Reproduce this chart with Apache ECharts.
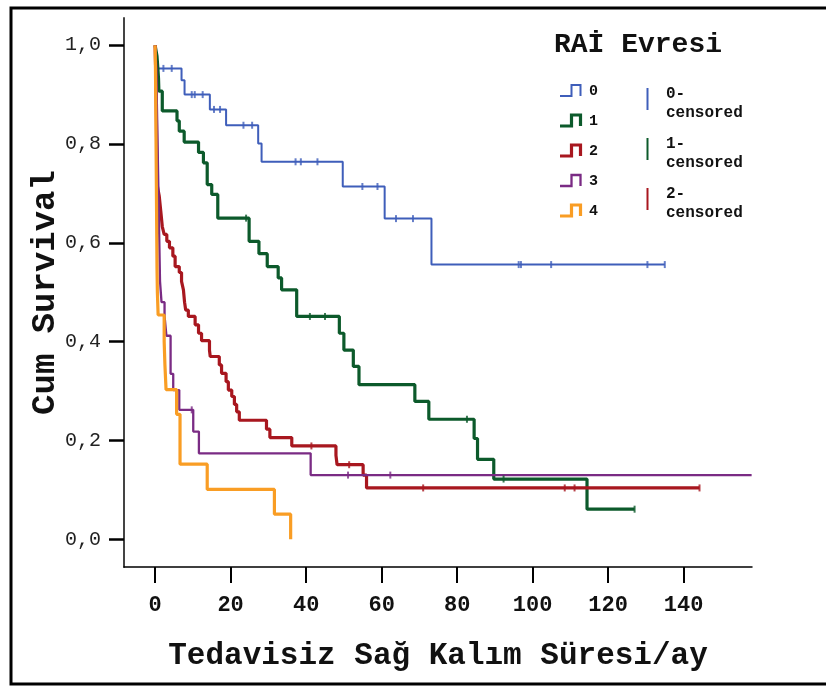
<!DOCTYPE html>
<html>
<head>
<meta charset="utf-8">
<script src="https://cdn.jsdelivr.net/npm/echarts@6/dist/echarts.min.js"></script>
<style>html,body{margin:0;padding:0;background:#fff}#chart{width:826px;height:686px}</style>
</head>
<body>
<div id="chart"></div>
<script>
// ---- data ----
const groupNames = ['0', '1', '2', '3', '4'];
const censorGroupNames = ['0-\ncensored', '1-\ncensored', '2-\ncensored'];
const legendTitle = 'RAİ Evresi';
const xTitle = 'Tedavisiz Sağ Kalım Süresi/ay';
const yTitle = 'Cum Survival';
const xTicks = [0, 20, 40, 60, 80, 100, 120, 140];
const yTicks = [0, 0.2, 0.4, 0.6, 0.8, 1.0];

const curve0 = [[0,1],[0.3,0.977],[0.6,0.953],[7.0,0.929],[7.8,0.900],[14.5,0.870],[18.8,0.838],[27.3,0.801],[28.2,0.764],[49.7,0.714],[60.8,0.649],[73.2,0.556],[135,0.556]];
const censor0 = [2.2,4.4,9.7,10.5,12.6,15.6,17.2,23.4,25.7,37.2,38.6,43.0,54.9,58.9,63.8,68.3,96.3,96.9,104.9,130.4,135];

const curve1 = [[0,1],[0.5,0.978],[0.7,0.956],[0.9,0.933],[1.0,0.907],[1.9,0.867],[5.8,0.847],[6.4,0.826],[7.7,0.804],[11.5,0.783],[12.8,0.762],[13.8,0.718],[15.0,0.698],[16.6,0.650],[24.9,0.603],[27.5,0.578],[29.7,0.552],[32.6,0.529],[33.5,0.505],[37.5,0.451],[48.8,0.417],[50.0,0.383],[52.5,0.350],[54.0,0.313],[68.8,0.279],[72.5,0.243],[84.5,0.204],[85.4,0.162],[89.7,0.122],[114.4,0.061],[127,0.061]];
const censor1 = [24.1,41.0,45.0,82.6,92.3,127];

const curve2 = [[0,1],[0.15,0.95],[0.25,0.9],[0.35,0.85],[0.4,0.8],[0.5,0.75],[0.6,0.715],[1.1,0.694],[1.5,0.664],[1.9,0.633],[2.4,0.617],[3.1,0.603],[3.8,0.590],[4.7,0.573],[5.3,0.552],[6.4,0.540],[7.0,0.522],[7.5,0.505],[7.8,0.480],[8.1,0.464],[8.8,0.451],[10.6,0.434],[11.5,0.417],[12.3,0.402],[14.4,0.383],[14.6,0.370],[17.0,0.353],[17.6,0.336],[18.8,0.319],[19.4,0.302],[20.3,0.289],[21.0,0.273],[21.6,0.258],[22.3,0.241],[29.5,0.223],[30.4,0.206],[36.2,0.189],[47.9,0.170],[48.2,0.151],[55.1,0.130],[56.0,0.104],[144.2,0.104]];
const censor2 = [41.4,51.4,71.0,108.5,111.1,144.2];

const curve3 = [[0,1],[0.3,0.957],[0.4,0.913],[0.5,0.870],[0.6,0.826],[0.7,0.783],[0.8,0.739],[0.9,0.696],[1.0,0.652],[1.1,0.609],[1.2,0.565],[1.3,0.522],[1.7,0.480],[2.5,0.452],[3.0,0.412],[4.1,0.335],[4.8,0.302],[6.4,0.262],[10.1,0.218],[11.6,0.174],[41.2,0.130],[158,0.130]];
const censor3 = [9.7,51.1,62.3];

const curve4 = [[0,1],[0.1,0.95],[0.15,0.9],[0.2,0.85],[0.25,0.8],[0.3,0.75],[0.35,0.7],[0.4,0.65],[0.45,0.6],[0.5,0.55],[0.6,0.5],[0.8,0.454],[2.4,0.40],[2.6,0.353],[2.9,0.303],[5.7,0.253],[6.6,0.152],[13.8,0.101],[31.6,0.051],[35.9,0.0]];
const censor4 = [];

const colors = ['#3F5EBA', '#0C5A2B', '#A8171F', '#7A2B84', '#F99D24'];
const widths = [2, 3.2, 3.2, 2.3, 3.2];

// ---- helpers ----
function survAt(curve, t) {
  let s = curve[0][1];
  for (const p of curve) { if (p[0] <= t) s = p[1]; else break; }
  return s;
}
const curves = [curve0, curve1, curve2, curve3, curve4];
const censors = [censor0, censor1, censor2, censor3, censor4];
const mono = 'Liberation Mono';

const series = [];
curves.forEach((c, i) => {
  series.push({
    type: 'line', name: groupNames[i], step: 'end', data: c,
    showSymbol: false, symbol: 'none',
    lineStyle: { color: colors[i], width: widths[i] },
    itemStyle: { color: colors[i] },
    z: 2 + i, silent: true
  });
  if (censors[i].length) {
    series.push({
      type: 'scatter', name: groupNames[i] + '-censored',
      data: censors[i].map(t => [t, survAt(c, t)]),
      symbol: 'rect', symbolSize: [2, 7],
      itemStyle: { color: colors[i] }, z: 10, silent: true
    });
  }
});

// ---- legend drawn as graphics ----
const graphics = [];
graphics.push({ type: 'rect', shape: { x: 11, y: 8, width: 840, height: 676 },
  style: { fill: 'none', stroke: '#000', lineWidth: 3 }, silent: true });
graphics.push({ type: 'text', left: 554, top: 31,
  style: { text: legendTitle, font: 'bold 28px "' + mono + '"', fill: '#111' } });
groupNames.forEach((n, i) => {
  const y = 96 + i * 30;
  graphics.push({ type: 'polyline',
    shape: { points: [[560, y], [571.5, y], [571.5, y - 11], [580.5, y - 11], [580.5, y]] },
    style: { stroke: colors[i], lineWidth: widths[i], fill: 'none' }, silent: true });
  graphics.push({ type: 'text', left: 589, top: y - 12,
    style: { text: n, font: 'bold 15px "' + mono + '"', fill: '#111' } });
});
censorGroupNames.forEach((n, i) => {
  const y0 = 88 + i * 50;
  graphics.push({ type: 'line', shape: { x1: 647.5, y1: y0, x2: 647.5, y2: y0 + 22 },
    style: { stroke: colors[i], lineWidth: 2 }, silent: true });
  graphics.push({ type: 'text', left: 666, top: y0 - 4,
    style: { text: n, font: 'bold 16px "' + mono + '"', fill: '#111', lineHeight: 19 } });
});

const chart = echarts.init(document.getElementById('chart'), null, { renderer: 'canvas' });
chart.setOption({
  animation: false,
  backgroundColor: '#fff',
  grid: { left: 124, top: 18, width: 628, height: 549 },
  xAxis: {
    type: 'value', min: -8.24, max: 158.1,
    splitLine: { show: false },
    axisLine: { onZero: false, lineStyle: { color: '#000', width: 1.5 } },
    axisTick: { customValues: xTicks, length: 16, lineStyle: { color: '#000', width: 2 } },
    axisLabel: { customValues: xTicks, margin: 27, color: '#111',
      fontFamily: mono, fontWeight: 'bold', fontSize: 22 },
    name: xTitle, nameLocation: 'middle', nameGap: 74, nameMoveOverlap: false,
    nameTextStyle: { fontFamily: mono, fontWeight: 'bold', fontSize: 31, color: '#111' }
  },
  yAxis: {
    type: 'value', min: -0.056, max: 1.055,
    splitLine: { show: false },
    axisLine: { show: true, onZero: false, lineStyle: { color: '#444', width: 2 } },
    axisTick: { show: true, customValues: yTicks, length: 15, lineStyle: { color: '#000', width: 2.5 } },
    axisLabel: { customValues: yTicks, margin: 23, color: '#222',
      fontFamily: mono, fontSize: 20,
      formatter: v => v.toFixed(1).replace('.', ',') },
    name: yTitle, nameLocation: 'middle', nameGap: 62, nameRotate: 90, nameMoveOverlap: false,
    nameTextStyle: { fontFamily: mono, fontWeight: 'bold', fontSize: 34, color: '#111' }
  },
  legend: { show: false },
  series: series,
  graphic: graphics
});
</script>
</body>
</html>
